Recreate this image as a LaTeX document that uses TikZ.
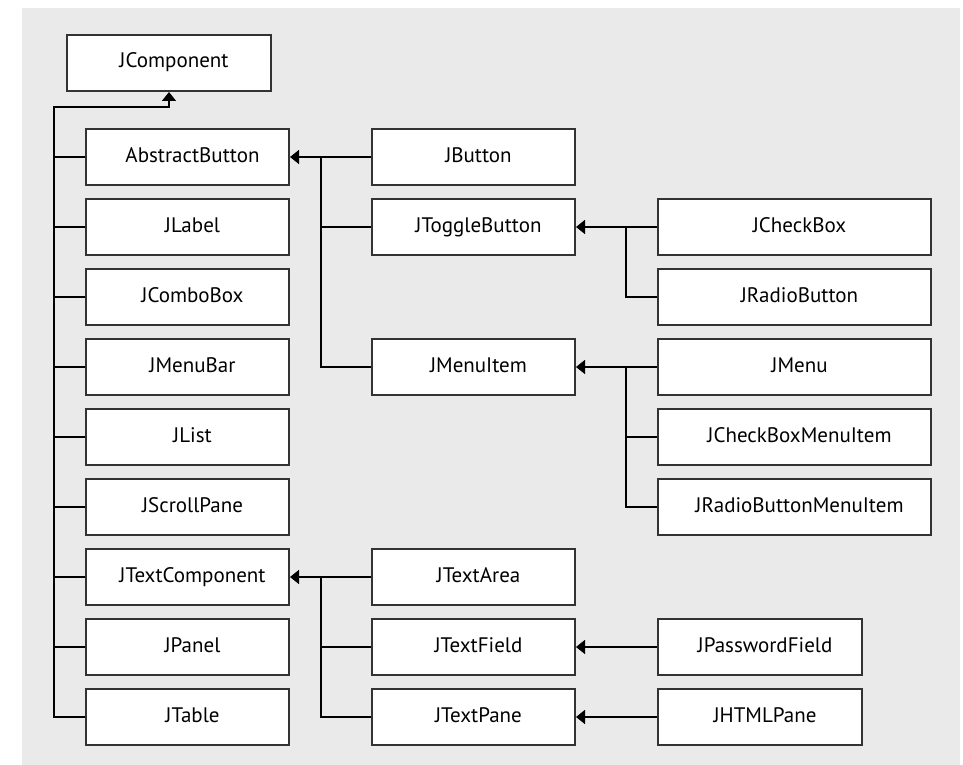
\documentclass[tikz,border=0pt]{standalone}
\usepackage{fontspec}
\setmainfont{PT Sans}
\usetikzlibrary{arrows.meta}
\definecolor{bgc}{HTML}{EAEAEA}
\definecolor{boxline}{HTML}{333333}
\begin{document}
\begin{tikzpicture}[x=1pt,y=-1pt,
  cls/.style={draw=boxline, line width=2pt, fill=white, minimum height=56pt,
    inner sep=0pt, text height=14pt, text depth=4pt,
    font=\fontsize{21}{24}\selectfont,
    execute at begin node=\hspace*{10pt}},
  narrow/.style={cls, minimum width=203pt},
  wide/.style={cls, minimum width=273pt},
  conn/.style={draw=black, line width=1.5pt},
  inherit/.style={conn, -{Triangle[width=14pt,length=9pt]}}
]
% backdrop and page frame
\useasboundingbox (0,0) rectangle (963,765);
\fill[bgc] (22,8) rectangle (960,765);

% root
\node[narrow, minimum width=204pt] (jcomp) at (169,63) {JComponent};

% first level
\node[narrow] (abstract) at (187.5,157) {AbstractButton};
\node[narrow] (jlabel)   at (187.5,227) {JLabel};
\node[narrow] (jcombo)   at (187.5,297) {JComboBox};
\node[narrow] (jmenubar) at (187.5,367) {JMenuBar};
\node[narrow] (jlist)    at (187.5,437) {JList};
\node[narrow] (jscroll)  at (187.5,507) {JScrollPane};
\node[narrow] (jtextcomp) at (187.5,577) {JTextComponent};
\node[narrow] (jpanel)   at (187.5,647) {JPanel};
\node[narrow] (jtable)   at (187.5,717) {JTable};

% second level
\node[narrow] (jbutton)   at (473.5,157) {JButton};
\node[narrow] (jtoggle)   at (473.5,227) {JToggleButton};
\node[narrow] (jmenuitem) at (473.5,367) {JMenuItem};
\node[narrow] (jtextarea) at (473.5,577) {JTextArea};
\node[narrow] (jtextfield) at (473.5,647) {JTextField};
\node[narrow] (jtextpane) at (473.5,717) {JTextPane};

% third level
\node[wide] (jcheck) at (794.5,227) {JCheckBox};
\node[wide] (jradio) at (794.5,297) {JRadioButton};
\node[wide] (jmenu)  at (794.5,367) {JMenu};
\node[wide] (jcbmi)  at (794.5,437) {JCheckBoxMenuItem};
\node[wide] (jrbmi)  at (794.5,507) {JRadioButtonMenuItem};
\node[narrow, minimum width=204pt] (jpass) at (760,647) {JPasswordField};
\node[narrow, minimum width=204pt] (jhtml) at (760,717) {JHTMLPane};

% junction points of the trunks
\coordinate (t0) at (54,107);
\coordinate (t1) at (169,107);
\coordinate (s1) at (321,157);
\coordinate (s2) at (626,227);
\coordinate (s3) at (626,367);
\coordinate (s4) at (321,577);

% JComponent subclasses
\draw[inherit] (jtable.west) -| (t0) -- (t1) -- (jcomp.south);
\foreach \n in {abstract,jlabel,jcombo,jmenubar,jlist,jscroll,jtextcomp,jpanel}
  \draw[conn] (\n.west) -- (\n.west -| t0);

% AbstractButton subclasses
\draw[inherit] (jmenuitem.west) -| (s1) -- (abstract.east);
\draw[conn] (jbutton.west) -- (s1);
\draw[conn] (jtoggle.west) -- (jtoggle.west -| s1);

% JToggleButton subclasses
\draw[inherit] (jradio.west) -| (s2) -- (jtoggle.east);
\draw[conn] (jcheck.west) -- (s2);

% JMenuItem subclasses
\draw[inherit] (jrbmi.west) -| (s3) -- (jmenuitem.east);
\draw[conn] (jmenu.west) -- (s3);
\draw[conn] (jcbmi.west) -- (jcbmi.west -| s3);

% JTextComponent subclasses
\draw[inherit] (jtextpane.west) -| (s4) -- (jtextcomp.east);
\draw[conn] (jtextarea.west) -- (s4);
\draw[conn] (jtextfield.west) -- (jtextfield.west -| s4);

% leaf subclasses
\draw[inherit] (jpass.west) -- (jtextfield.east);
\draw[inherit] (jhtml.west) -- (jtextpane.east);
\end{tikzpicture}
\end{document}
